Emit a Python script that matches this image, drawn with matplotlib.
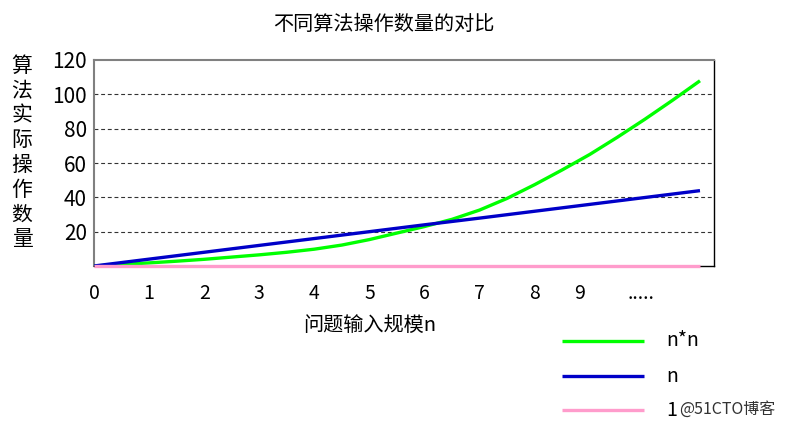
import matplotlib
matplotlib.use("Agg")
import matplotlib.pyplot as plt
from matplotlib.lines import Line2D

plt.rcParams['font.family'] = ['Noto Sans CJK SC', 'DejaVu Sans']

# ---- data ----
title = "不同算法操作数量的对比"
ylabel_chars = list("算法实际操作数量")
xlabel = "问题输入规模n"
n_half = [i * 0.5 for i in range(23)]
quad_vals = [0, 0.9, 1.8, 2.8, 3.9, 5.2, 6.5, 8.0, 9.8, 12.2, 15.4, 19.2,
             23.0, 27.2, 32.6, 39.4, 47.4, 56.0, 65.0, 75.0, 85.5, 96.5, 107.9]
n_int = list(range(12))
lin_vals = [0, 4, 8, 12, 16, 20, 24, 27.9, 31.9, 35.9, 39.9, 43.9]
const_vals = [0] * 12
series_labels = ["n*n", "n", "1"]
series_colors = ["#00ff00", "#0000c8", "#ff9ccc"]
xtick_labels = ["0", "1", "2", "3", "4", "5", "6", "7", "8", "9", "....."]
ytick_vals = [20, 40, 60, 80, 100, 120]
watermark = "@51CTO博客"

W, H = 787, 426
fig = plt.figure(figsize=(W / 100, H / 100), dpi=100)

def fx(px):
    return px / W

def fy(py):
    return 1 - py / H

unit = 55.09
ax = fig.add_axes([fx(94), fy(266), (714 - 94) / W, (266 - 60) / H])
ax.set_xlim(0, (714 - 94) / unit)
ax.set_ylim(0, 120)

lw = 2.4
ax.plot(n_half, quad_vals, color=series_colors[0], lw=lw, zorder=4,
        solid_capstyle='butt', solid_joinstyle='round')
ax.plot(n_int, lin_vals, color=series_colors[1], lw=lw, zorder=5,
        solid_capstyle='butt')
ax.plot(n_int, const_vals, color=series_colors[2], lw=lw, zorder=6,
        clip_on=False, solid_capstyle='butt')

# grid
for v in ytick_vals[:-1]:
    ax.axhline(v, color='#333333', lw=0.8, linestyle=(0, (3.5, 2.5)), zorder=2)

for s in ['left', 'top']:
    ax.spines[s].set_color('#808080')
    ax.spines[s].set_linewidth(1.5)
for s in ['right', 'bottom']:
    ax.spines[s].set_color('black')
    ax.spines[s].set_linewidth(1.0)

xtick_pos = [0, 1, 2, 3, 4, 5, 6, 7, 8, 8.82, 9.93]
ax.set_xticks(xtick_pos, xtick_labels)
ax.set_yticks(ytick_vals, [str(v) for v in ytick_vals])
ax.tick_params(axis='both', length=0, colors='black')
ax.tick_params(axis='x', pad=12, labelsize=14)
ax.tick_params(axis='y', pad=5, labelsize=15)

# title and labels
fig.text(fx(384), fy(24.5), title, fontsize=14.5, ha='center', va='center')
fig.text(fx(370), fy(325), xlabel, fontsize=14.5, ha='center', va='center')
for i, ch in enumerate(ylabel_chars):
    fig.text(fx(22), fy(66 + i * 24.7), ch, fontsize=15, ha='center', va='center')

# legend (manual)
leg_y = [341, 376, 410]
for lab, col, yy in zip(series_labels, series_colors, leg_y):
    fig.add_artist(Line2D([fx(562), fx(644)], [fy(yy), fy(yy)], color=col,
                          lw=lw, solid_capstyle='butt'))
    fig.text(fx(666), fy(yy), lab, fontsize=14, ha='left', va='center')
fig.text(fx(679), fy(409), watermark, fontsize=11.5, ha='left', va='center',
         color='#333333')

fig.savefig("out.png", dpi=100)
